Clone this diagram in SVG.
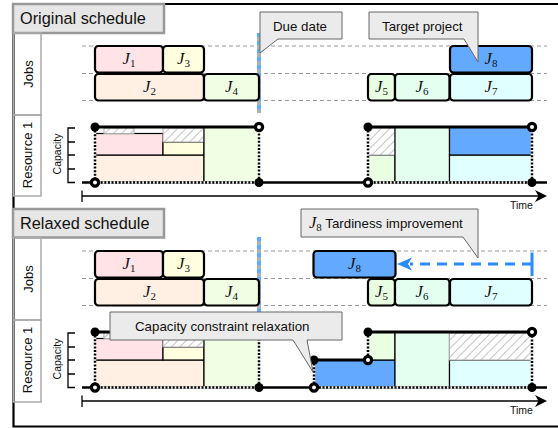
<svg xmlns="http://www.w3.org/2000/svg" width="558" height="428" viewBox="0 0 558 428">
<defs>
<pattern id="hatch" patternUnits="userSpaceOnUse" width="6" height="6" patternTransform="rotate(45)">
<rect width="6" height="6" fill="#ffffff"/>
<line x1="0" y1="0" x2="0" y2="6" stroke="#b4b4b4" stroke-width="1.6"/>
</pattern>
<style>
.lbl{fill:#e6e6e6;stroke:#999;stroke-width:2.5}
.lbltxt{font-family:"Liberation Sans",Arial,sans-serif;font-size:16.3px;fill:#111}
.row{fill:none;stroke:#aaa;stroke-width:1.5}
.rowtxt{font-family:"Liberation Sans",Arial,sans-serif;font-size:13px;fill:#111;text-anchor:middle;dominant-baseline:central}
.cap{font-family:"Liberation Sans",Arial,sans-serif;font-size:10.5px;fill:#111;text-anchor:middle;dominant-baseline:central}
.grid{stroke:#999;stroke-width:1.2;stroke-dasharray:4 3;fill:none}
.job{stroke:#000;stroke-width:2.2}
.jt{font-family:"Liberation Serif","Times New Roman",serif;font-size:16.5px;text-anchor:middle;fill:#111}
.blk{stroke:#000;stroke-width:1.2}
.hat{fill:url(#hatch);stroke:#aaa;stroke-width:1}
.base{stroke:#000;stroke-width:2.5;fill:none}
.envw{stroke:#fff;stroke-width:2.5;fill:none}
.envd{stroke:#000;stroke-width:2.5;stroke-dasharray:2 1.6;fill:none}
.top{stroke:#000;stroke-width:2.8;fill:none}
.fd{fill:#000}
.hd{fill:#fff;stroke:#000;stroke-width:3.2}
.axis{stroke:#000;stroke-width:1.3;fill:none}
.call{fill:#ebebeb;stroke:#666;stroke-width:1}
.ctxt{font-family:"Liberation Sans",Arial,sans-serif;font-size:13.3px;fill:#111}
.time{font-family:"Liberation Sans",Arial,sans-serif;font-size:10.5px;fill:#111}
.due{stroke:#b0b0b0;stroke-width:4}
.dueb{stroke:#5ab0ff;stroke-width:4;stroke-dasharray:4 4}
.c1{fill:#ffe3e6}.c2{fill:#fff0e3}.c3{fill:#ffffe0}.c4{fill:#f0ffe4}.c5{fill:#e8ffe2}.c6{fill:#e4fff0}.c7{fill:#e0ffff}.c8{fill:#63a9ff}
</style>
</defs>

<!-- outer frame -->
<g id="frame">
<path d="M560,4 H13.5 V426.5 H560" fill="none" stroke="#000" stroke-width="2.2"/>
</g>

<!-- ===== Original schedule ===== -->
<g id="title-original">
<rect class="lbl" x="13" y="4" width="151" height="29"/>
<text class="lbltxt" x="20" y="24">Original schedule</text>
</g>
<g id="row-jobs-1">
<rect class="row" x="13.5" y="33" width="27.5" height="82"/>
<text class="rowtxt" transform="translate(28,74) rotate(-90)">Jobs</text>
</g>
<g id="row-res-1">
<rect class="row" x="13.5" y="115" width="27.5" height="81"/>
<text class="rowtxt" transform="translate(27.5,155) rotate(-90)">Resource 1</text>
</g>
<g id="grid-1">
<line class="grid" x1="82" y1="46" x2="547" y2="46"/>
<line class="grid" x1="82" y1="73.5" x2="547" y2="73.5"/>
<line class="grid" x1="82" y1="100.5" x2="547" y2="100.5"/>
</g>
<g id="duedate-line-1">
<line class="due" x1="259" y1="33" x2="259" y2="113"/>
<line class="dueb" x1="259" y1="33" x2="259" y2="113"/>
</g>

<g id="jobs-1">
<g id="o-J1"><rect class="job c1" x="95" y="46" width="68" height="26.5" rx="3.5"/><text class="jt" x="129" y="64"><tspan font-style="italic">J</tspan><tspan font-size="11" dy="3">1</tspan></text></g>
<g id="o-J3"><rect class="job c3" x="163" y="46" width="41" height="26.5" rx="3.5"/><text class="jt" x="183.5" y="64"><tspan font-style="italic">J</tspan><tspan font-size="11" dy="3">3</tspan></text></g>
<g id="o-J2"><rect class="job c2" x="95" y="74" width="109" height="26.5" rx="3.5"/><text class="jt" x="149.5" y="92"><tspan font-style="italic">J</tspan><tspan font-size="11" dy="3">2</tspan></text></g>
<g id="o-J4"><rect class="job c4" x="204" y="74" width="55" height="26.5" rx="3.5"/><text class="jt" x="231.5" y="92"><tspan font-style="italic">J</tspan><tspan font-size="11" dy="3">4</tspan></text></g>
<g id="o-J8"><rect class="job c8" x="450" y="46" width="82" height="26.5" rx="3.5"/><text class="jt" x="491" y="64"><tspan font-style="italic">J</tspan><tspan font-size="11" dy="3">8</tspan></text></g>
<g id="o-J5"><rect class="job c5" x="368" y="74" width="27" height="26.5" rx="3.5"/><text class="jt" x="381.5" y="92"><tspan font-style="italic">J</tspan><tspan font-size="11" dy="3">5</tspan></text></g>
<g id="o-J6"><rect class="job c6" x="395" y="74" width="54.5" height="26.5" rx="3.5"/><text class="jt" x="422" y="92"><tspan font-style="italic">J</tspan><tspan font-size="11" dy="3">6</tspan></text></g>
<g id="o-J7"><rect class="job c7" x="450" y="74" width="82" height="26.5" rx="3.5"/><text class="jt" x="491" y="92"><tspan font-style="italic">J</tspan><tspan font-size="11" dy="3">7</tspan></text></g>
</g>

<g id="capacity-axis-1">
<path class="axis" d="M75,128 H68 V182.5 H75 M68,142 H75 M68,155 H75 M68,169 H75"/>
<text class="cap" transform="translate(57,154) rotate(-90)">Capacity</text>
</g>

<g id="resource-1">
<rect class="blk c2" x="95" y="155" width="109" height="27"/>
<rect class="blk c1" x="95" y="133.5" width="68" height="21.5"/>
<rect class="blk c3" x="163" y="142" width="41" height="13"/>
<rect class="hat" x="104" y="128" width="30" height="5.5" stroke="none"/>
<rect class="hat" x="163" y="128" width="41" height="14"/>
<rect class="blk c4" x="204" y="127" width="55" height="55"/>
<rect class="blk c5" x="368" y="155" width="27" height="27"/>
<rect class="hat" x="368" y="128" width="27" height="27"/>
<rect class="blk c6" x="395" y="127" width="54.5" height="55"/>
<rect class="blk c7" x="449.5" y="155" width="82.5" height="27"/>
<rect class="blk c8" x="449.5" y="127" width="82.5" height="28"/>
<line class="base" x1="82" y1="182.5" x2="547" y2="182.5"/>
<path class="envw" d="M95,127 V182.5 H259 V127 M368,127 V182.5 H532 V127"/>
<path class="envd" d="M95,127 V182.5 H259 V127 M368,127 V182.5 H532 V127"/>
<path class="top" d="M95,127 H259 M368,127 H532"/>
<circle class="fd" cx="95" cy="127" r="4.5"/>
<circle class="hd" cx="259" cy="127" r="3.6"/>
<circle class="hd" cx="95" cy="182.5" r="3.6"/>
<circle class="fd" cx="259" cy="182.5" r="4.5"/>
<circle class="fd" cx="368" cy="127" r="4.5"/>
<circle class="hd" cx="532" cy="127" r="3.6"/>
<circle class="hd" cx="368" cy="182.5" r="3.6"/>
<circle class="fd" cx="532" cy="182.5" r="4.5"/>
</g>

<g id="time-axis-1">
<path class="axis" d="M82,196 H540 M82,190.5 V202"/>
<path d="M547,196 L535,190 L538.5,196 L535,202 Z" fill="#000"/>
<text class="time" x="510" y="209">Time</text>
</g>

<!-- ===== Relaxed schedule ===== -->
<g id="title-relaxed">
<rect class="lbl" x="13" y="209" width="151" height="28.5"/>
<text class="lbltxt" x="20" y="229">Relaxed schedule</text>
</g>
<g id="row-jobs-2">
<rect class="row" x="13.5" y="237.5" width="27.5" height="82.5"/>
<text class="rowtxt" transform="translate(28,279) rotate(-90)">Jobs</text>
</g>
<g id="row-res-2">
<rect class="row" x="13.5" y="320" width="27.5" height="82"/>
<text class="rowtxt" transform="translate(27.5,360) rotate(-90)">Resource 1</text>
</g>
<g id="grid-2">
<line class="grid" x1="82" y1="251" x2="547" y2="251"/>
<line class="grid" x1="82" y1="278.5" x2="547" y2="278.5"/>
<line class="grid" x1="82" y1="305.5" x2="547" y2="305.5"/>
</g>
<g id="duedate-line-2">
<line class="due" x1="259" y1="237" x2="259" y2="318"/>
<line class="dueb" x1="259" y1="237" x2="259" y2="318"/>
</g>

<g id="jobs-2">
<g id="r-J1"><rect class="job c1" x="95" y="251" width="68" height="26.5" rx="3.5"/><text class="jt" x="129" y="269"><tspan font-style="italic">J</tspan><tspan font-size="11" dy="3">1</tspan></text></g>
<g id="r-J3"><rect class="job c3" x="163" y="251" width="41" height="26.5" rx="3.5"/><text class="jt" x="183.5" y="269"><tspan font-style="italic">J</tspan><tspan font-size="11" dy="3">3</tspan></text></g>
<g id="r-J2"><rect class="job c2" x="95" y="279" width="109" height="26.5" rx="3.5"/><text class="jt" x="149.5" y="297"><tspan font-style="italic">J</tspan><tspan font-size="11" dy="3">2</tspan></text></g>
<g id="r-J4"><rect class="job c4" x="204" y="279" width="55" height="26.5" rx="3.5"/><text class="jt" x="231.5" y="297"><tspan font-style="italic">J</tspan><tspan font-size="11" dy="3">4</tspan></text></g>
<g id="r-J8"><rect class="job c8" x="313.5" y="251" width="82" height="26.5" rx="3.5"/><text class="jt" x="354.5" y="269"><tspan font-style="italic">J</tspan><tspan font-size="11" dy="3">8</tspan></text></g>
<g id="r-J5"><rect class="job c5" x="368" y="279" width="27" height="26.5" rx="3.5"/><text class="jt" x="381.5" y="297"><tspan font-style="italic">J</tspan><tspan font-size="11" dy="3">5</tspan></text></g>
<g id="r-J6"><rect class="job c6" x="395" y="279" width="54.5" height="26.5" rx="3.5"/><text class="jt" x="422" y="297"><tspan font-style="italic">J</tspan><tspan font-size="11" dy="3">6</tspan></text></g>
<g id="r-J7"><rect class="job c7" x="450" y="279" width="82" height="26.5" rx="3.5"/><text class="jt" x="491" y="297"><tspan font-style="italic">J</tspan><tspan font-size="11" dy="3">7</tspan></text></g>
</g>

<g id="connectors">
<line x1="532" y1="264" x2="410" y2="264" stroke="#2a8cff" stroke-width="3" stroke-dasharray="10 7"/>
<line x1="532" y1="252.5" x2="532" y2="276" stroke="#2a8cff" stroke-width="3"/>
<path d="M397,264 L412,257.5 L408,264 L412,270.5 Z" fill="#2a8cff"/>
</g>

<g id="capacity-axis-2">
<path class="axis" d="M75,333 H68 V387.5 H75 M68,347 H75 M68,360 H75 M68,374 H75"/>
<text class="cap" transform="translate(57,359) rotate(-90)">Capacity</text>
</g>

<g id="resource-2">
<rect class="blk c2" x="95" y="360" width="109" height="27"/>
<rect class="blk c1" x="95" y="338.5" width="68" height="21.5"/>
<rect class="blk c3" x="163" y="347" width="41" height="13"/>
<rect class="hat" x="104" y="333" width="30" height="5.5" stroke="none"/>
<rect class="hat" x="163" y="333" width="41" height="14"/>
<rect class="blk c4" x="204" y="332" width="55" height="55"/>
<rect class="blk c8" x="314" y="360" width="81" height="27"/>
<rect class="blk c5" x="368" y="332" width="27" height="28"/>
<rect class="blk c6" x="395" y="332" width="54.5" height="55"/>
<rect class="blk c7" x="449.5" y="360" width="82.5" height="27"/>
<rect class="hat" x="449.5" y="333" width="82.5" height="27"/>
<line class="base" x1="82" y1="387.5" x2="547" y2="387.5"/>
<path class="envw" d="M95,332 V387.5 H259 V332 M314,360 V387.5 H532 V332 M368,332 V360"/>
<path class="envd" d="M95,332 V387.5 H259 V332 M314,360 V387.5 H532 V332 M368,332 V360"/>
<path class="top" d="M95,332 H259 M314,360 H368 M368,332 H532"/>
<circle class="fd" cx="95" cy="332" r="4.5"/>
<circle class="hd" cx="259" cy="332" r="3.6"/>
<circle class="hd" cx="95" cy="387.5" r="3.6"/>
<circle class="fd" cx="259" cy="387.5" r="4.5"/>
<circle class="fd" cx="314" cy="360" r="4.5"/>
<circle class="hd" cx="314" cy="387.5" r="3.6"/>
<circle class="hd" cx="368" cy="360" r="3.6"/>
<circle class="fd" cx="368" cy="332" r="4.5"/>
<circle class="hd" cx="532" cy="332" r="3.6"/>
<circle class="fd" cx="532" cy="387.5" r="4.5"/>
</g>

<g id="time-axis-2">
<path class="axis" d="M82,401 H540 M82,395.5 V407"/>
<path d="M547,401 L535,395 L538.5,401 L535,407 Z" fill="#000"/>
<text class="time" x="510" y="414">Time</text>
</g>

<!-- callouts -->
<g id="callout-due">
<path class="call" d="M260,12 H342 V39 H278 L260,53 Z"/>
<text class="ctxt" x="273" y="31">Due date</text>
</g>
<g id="callout-target">
<path class="call" d="M369,12 H478 V62 L464,39 H369 Z"/>
<text class="ctxt" x="382" y="31">Target project</text>
</g>
<g id="callout-tardiness">
<path class="call" d="M301,209 H478 V258 L463,237 H301 Z"/>
<text class="ctxt" x="309" y="228"><tspan font-family="Liberation Serif,serif" font-style="italic" font-size="16.5">J</tspan><tspan font-family="Liberation Serif,serif" font-size="11" dy="3">8</tspan><tspan dy="-3"> Tardiness improvement</tspan></text>
</g>
<g id="callout-relax">
<path class="call" d="M110,312 H342 V340 H307 L313,372 L293,340 H110 Z"/>
<text class="ctxt" x="135" y="331">Capacity constraint relaxation</text>
</g>
</svg>
